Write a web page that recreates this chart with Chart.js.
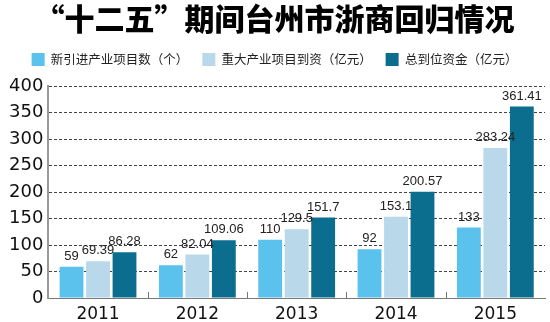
<!DOCTYPE html>
<html>
<head>
<meta charset="utf-8">
<script src="https://cdn.jsdelivr.net/npm/chart.js@4/dist/chart.umd.min.js"></script>
<style>
  html, body { margin: 0; padding: 0; background: #fff; }
  #wrap { width: 550px; height: 322px; position: relative; }
</style>
</head>
<body>
<div id="wrap"><canvas id="c"></canvas></div>
<script>
// "十二五"期间台州市浙商回归情况 — grouped bars.

const YEARS = ['2011', '2012', '2013', '2014', '2015'];
const NEW_PROJECTS = [59, 62, 110, 92, 133];              // 新引进产业项目数（个）
const MAJOR_FUNDS = [69.39, 82.04, 129.5, 153.1, 283.24];  // 重大产业项目到资（亿元）
const TOTAL_FUNDS = [86.28, 109.06, 151.7, 200.57, 361.41]; // 总到位资金（亿元）
const SERIES_NAMES = ['新引进产业项目数（个）', '重大产业项目到资（亿元）', '总到位资金（亿元）'];
const Y_TICKS = [0, 50, 100, 150, 200, 250, 300, 350, 400];

const COLORS = ['#5bc1ed', '#b9d8e9', '#0c6e8f'];

// value labels above each bar — no datalabels plugin in the sandbox
const barLabels = {
  id: 'barLabels',
  afterDatasetsDraw(chart) {
    const ctx = chart.ctx;
    ctx.save();
    ctx.font = '13px "Liberation Sans", Arial, sans-serif';
    ctx.fillStyle = '#222';
    ctx.textAlign = 'center';
    ctx.textBaseline = 'bottom';
    chart.data.datasets.forEach((ds, di) => {
      chart.getDatasetMeta(di).data.forEach((bar, i) => {
        ctx.fillText(String(ds.data[i]), bar.x, bar.y - 4);
      });
    });
    ctx.restore();
  },
};

// small upward ticks between categories on the x axis
const catTicks = {
  id: 'catTicks',
  afterDraw(chart) {
    const x = chart.scales.x, a = chart.chartArea, ctx = chart.ctx;
    ctx.save();
    ctx.strokeStyle = '#777';
    ctx.lineWidth = 1;
    for (let i = 1; i < YEARS.length; i++) {
      const px = Math.round((x.getPixelForValue(i - 1) + x.getPixelForValue(i)) / 2) + 0.5;
      ctx.beginPath();
      ctx.moveTo(px, a.bottom);
      ctx.lineTo(px, a.bottom - 6);
      ctx.stroke();
    }
    ctx.restore();
  },
};

// extra room under the legend
const legendGap = {
  id: 'legendGap',
  beforeInit(chart) {
    const fit = chart.legend.fit;
    chart.legend.fit = function () {
      fit.call(this);
      this.height += 10;
    };
  },
};

new Chart(document.getElementById('c'), {
  type: 'bar',
  data: {
    labels: YEARS,
    datasets: [NEW_PROJECTS, MAJOR_FUNDS, TOTAL_FUNDS].map((d, i) => ({
      label: SERIES_NAMES[i],
      data: d,
      backgroundColor: COLORS[i],
      categoryPercentage: 0.8,
      barPercentage: 0.9,
    })),
  },
  options: {
    responsive: true,
    maintainAspectRatio: false,
    animation: false,
    layout: { padding: { left: 4, right: 5, top: 0, bottom: -9 } },
    plugins: {
      title: {
        display: true,
        text: '“十二五”期间台州市浙商回归情况',
        color: '#000',
        font: { family: '"Noto Sans CJK SC", sans-serif', size: 30, weight: 900, lineHeight: 1.2 },
        padding: { top: 1, bottom: 2 },
      },
      legend: {
        display: true,
        labels: {
          boxWidth: 13,
          boxHeight: 13,
          padding: 14,
          color: '#222',
          font: { family: '"Noto Sans CJK SC", sans-serif', size: 12.5 },
        },
      },
      tooltip: { enabled: false },
    },
    scales: {
      x: {
        grid: { display: false, drawTicks: false },
        border: { color: '#777', width: 1 },
        ticks: {
          color: '#111',
          padding: 8,
          font: { family: '"DejaVu Sans", sans-serif', size: 17, lineHeight: 1 },
        },
      },
      y: {
        min: 0,
        max: 400,
        afterBuildTicks: (s) => { s.ticks = Y_TICKS.map(v => ({ value: v })); },
        grid: { color: '#444', drawTicks: false, lineWidth: 1 },
        border: { color: '#999', width: 2, dash: [3, 2] },
        ticks: {
          color: '#111',
          padding: 5,
          autoSkip: false,
          font: { family: '"DejaVu Sans", sans-serif', size: 18 },
        },
      },
    },
  },
  plugins: [barLabels, catTicks, legendGap],
});
</script>
</body>
</html>
